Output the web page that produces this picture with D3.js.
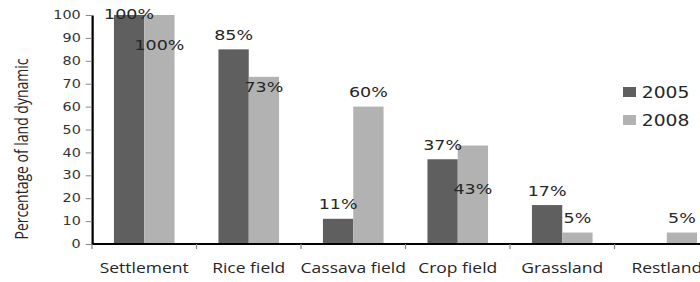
<!DOCTYPE html>
<html>
<head>
<meta charset="utf-8">
<script src="https://cdn.jsdelivr.net/npm/d3@7"></script>
<style>
    html, body { margin: 0; padding: 0; background: #fff; }
    svg { display: block; }
</style>
</head>
<body>
<svg id="chart"></svg>
<script>
// data
const categories = ["Settlement", "Rice field", "Cassava field", "Crop field", "Grassland", "Restland"];
const years = ["2005", "2008"];
const values2005 = [100, 85, 11, 37, 17, 0];
const values2008 = [100, 73, 60, 43, 5, 5];
const yTicks = [0, 10, 20, 30, 40, 50, 60, 70, 80, 90, 100];

const DARK = "#5f5f5f";
const LIGHT = "#b2b2b2";
const TEXT = "#262626";

// the picture is stretched sideways, so draw in a narrower space and let the viewBox stretch it
const W = 560, H = 282, OUT_W = 700;
const marginLeft = 73.6, plotTop = 15, plotBottom = 244;

// labels that do not sit just above their bar (px moved down)
const labelNudge = {"Settlement|2005": 14, "Settlement|2008": 45, "Rice field|2008": 25, "Crop field|2008": 58};

const rows = categories.map((c, i) => ({cat: c, "2005": values2005[i], "2008": values2008[i]}));

const svg = d3.select("#chart")
    .attr("width", OUT_W)
    .attr("height", H)
    .attr("viewBox", [0, 0, W, H])
    .attr("preserveAspectRatio", "none");

const x0 = d3.scaleBand().domain(categories).range([marginLeft, marginLeft + 6 * 83.6]);
const x1 = d3.scaleBand().domain(years).range([x0.bandwidth() * 0.21, x0.bandwidth() * 0.79]);
const y = d3.scaleLinear().domain([0, 100]).range([plotBottom, plotTop]);
const color = d3.scaleOrdinal().domain(years).range([DARK, LIGHT]);

// bars
const group = svg.append("g")
    .selectAll("g")
    .data(rows)
    .join("g")
    .attr("transform", d => `translate(${x0(d.cat)},0)`);

group.selectAll("rect")
    .data(d => years.map(k => ({cat: d.cat, key: k, value: d[k]})))
    .join("rect")
    .attr("x", d => x1(d.key))
    .attr("width", x1.bandwidth())
    .attr("y", d => y(d.value))
    .attr("height", d => y(0) - y(d.value))
    .attr("fill", d => color(d.key));

// value labels
group.selectAll("text")
    .data(d => years.map(k => ({cat: d.cat, key: k, value: d[k]})).filter(d => d.value > 0))
    .join("text")
    .attr("x", d => x1(d.key) + x1.bandwidth() / 2)
    .attr("y", d => y(d.value) - 9.5 + (labelNudge[d.cat + "|" + d.key] || 0))
    .attr("text-anchor", "middle")
    .attr("fill", TEXT)
    .style("font", "14px 'DejaVu Sans', Verdana, sans-serif")
    .text(d => d.value + "%");

// y axis
const yAxis = svg.append("g")
    .attr("transform", `translate(${marginLeft},0)`)
    .call(d3.axisLeft(y).tickValues(yTicks).tickSize(5).tickPadding(4).tickSizeOuter(0));
yAxis.select(".domain").attr("stroke", "#000").attr("stroke-width", 1.8);
yAxis.selectAll(".tick line").attr("stroke", "#888");
yAxis.selectAll(".tick text")
    .attr("fill", "#333")
    .style("font", "11.5px 'DejaVu Sans', Verdana, sans-serif");

// x axis
const xAxis = svg.append("g")
    .attr("transform", `translate(0,${plotBottom})`);
xAxis.append("line")
    .attr("x1", marginLeft).attr("x2", W)
    .attr("stroke", "#000").attr("stroke-width", 2);
xAxis.selectAll(".xtick")
    .data(categories)
    .join("line")
    .attr("class", "xtick")
    .attr("x1", d => x0(d)).attr("x2", d => x0(d))
    .attr("y1", 0).attr("y2", 5)
    .attr("stroke", "#888");
xAxis.selectAll(".xlabel")
    .data(categories)
    .join("text")
    .attr("class", "xlabel")
    .attr("x", d => x0(d) + x0.bandwidth() / 2)
    .attr("y", 29.5)
    .attr("text-anchor", "middle")
    .attr("fill", TEXT)
    .style("font", "14px 'Open Sans', sans-serif")
    .text(d => d);

// y title
svg.append("text")
    .attr("transform", `translate(22,149) rotate(-90)`)
    .attr("text-anchor", "middle")
    .attr("fill", TEXT)
    .style("font", "14px 'Open Sans', sans-serif")
    .text("Percentage of land dynamic");

// legend
const legend = svg.append("g")
    .selectAll("g")
    .data(years)
    .join("g")
    .attr("transform", (d, i) => `translate(498.4,${87 + i * 28})`);
legend.append("rect")
    .attr("width", 10.4).attr("height", 10)
    .attr("fill", d => color(d));
legend.append("text")
    .attr("x", 15)
    .attr("y", 10.5)
    .attr("fill", TEXT)
    .style("font", "15px 'DejaVu Sans', Verdana, sans-serif")
    .text(d => d);
</script>
</body>
</html>
